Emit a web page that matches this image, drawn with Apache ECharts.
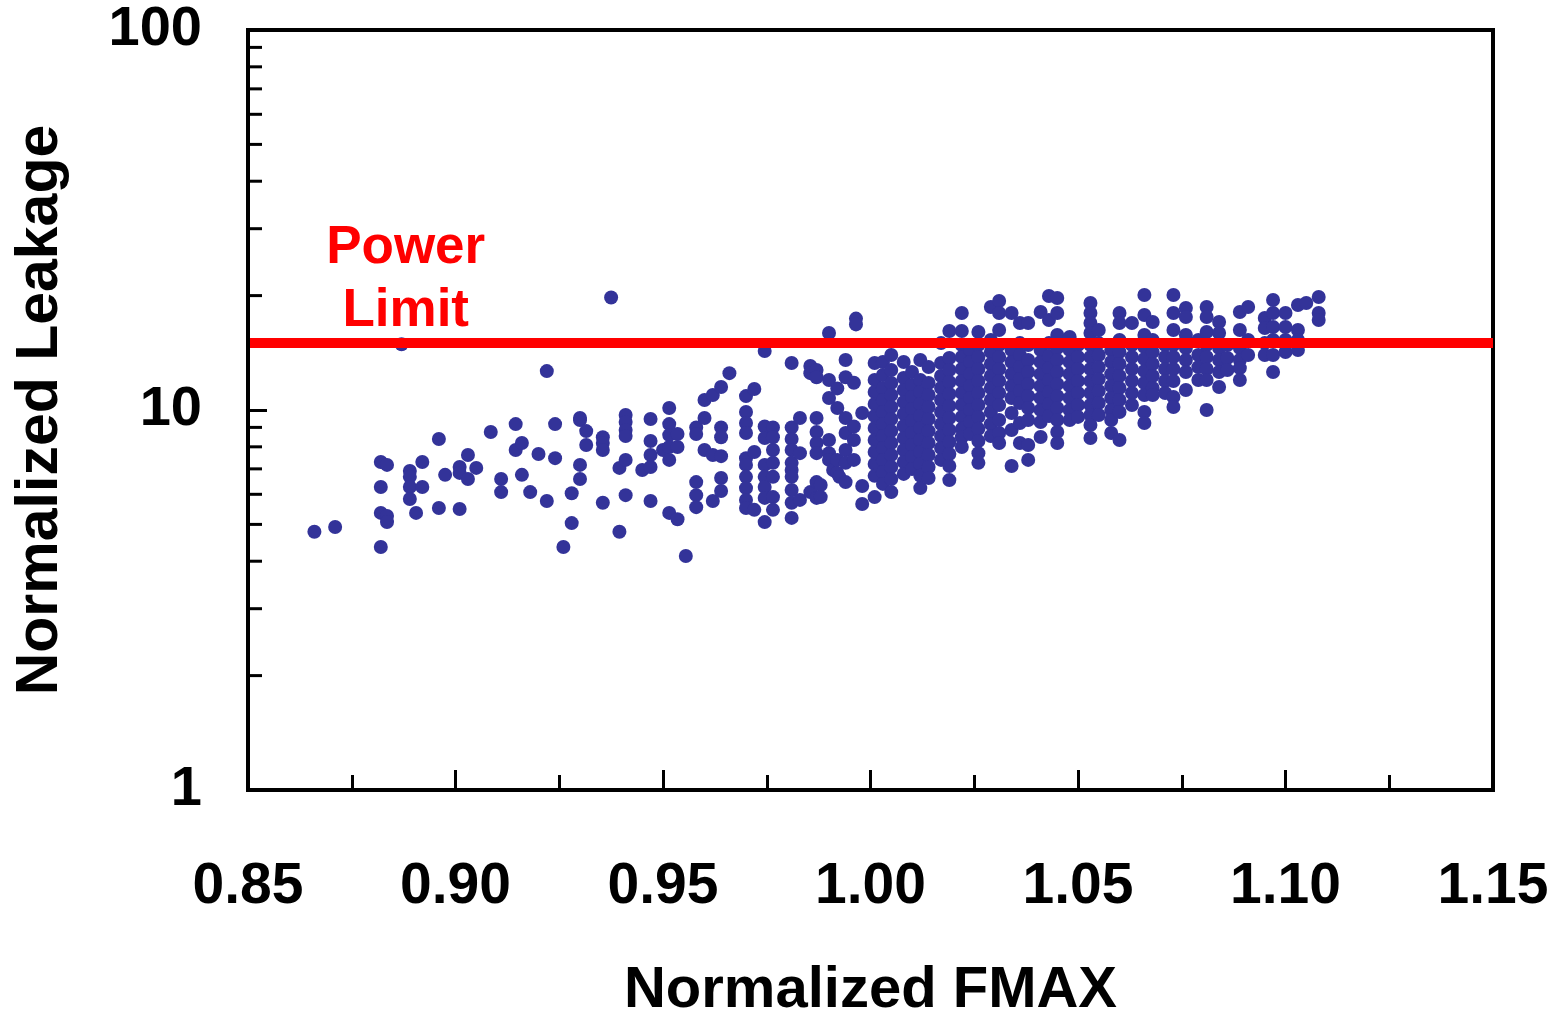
<!DOCTYPE html>
<html><head><meta charset="utf-8">
<script src="https://cdn.jsdelivr.net/npm/echarts@6/dist/echarts.min.js"></script>
<style>html,body{margin:0;padding:0;background:#fff}#c{width:1559px;height:1015px}</style>
</head><body><div id="c"></div>
<script>
// Normalized FMAX column values and the Normalized Leakage values measured at each
const fmaxCols = [
  0.866, 0.871, 0.882, 0.8835, 0.887, 0.889, 0.8905, 0.892, 0.896, 0.8975,
  0.901, 0.903, 0.905, 0.9085, 0.911, 0.9145, 0.916, 0.918, 0.920, 0.922,
  0.924, 0.926, 0.928, 0.930, 0.9315, 0.9355, 0.9375, 0.9395, 0.941, 0.945,
  0.947, 0.950, 0.9515, 0.9535, 0.9555, 0.958, 0.960, 0.962, 0.964, 0.966,
  0.970, 0.972, 0.9745, 0.9765, 0.981, 0.983, 0.9855, 0.987, 0.988, 0.990,
  0.991, 0.992, 0.9925, 0.994, 0.996, 0.9965, 0.998,
  1.001, 1.003, 1.005, 1.008, 1.010, 1.012, 1.014, 1.017, 1.019, 1.022,
  1.024, 1.026, 1.029, 1.031, 1.034, 1.036, 1.038, 1.041, 1.043, 1.045,
  1.048, 1.050, 1.053, 1.055, 1.058, 1.060, 1.063, 1.066, 1.068, 1.071,
  1.073, 1.076, 1.079, 1.081, 1.084, 1.086, 1.089, 1.091, 1.095, 1.097,
  1.100, 1.103, 1.105, 1.108
];
const leakCols = [
  [4.78], [4.92], [7.30, 6.27, 5.36, 4.36], [7.17, 5.26, 5.07], [14.9],
  [6.91, 6.67, 6.27, 5.83], [5.36], [7.30, 6.27], [8.39, 5.52], [6.75],
  [7.08, 6.83, 5.49], [7.61, 6.58], [7.04], [8.75], [6.58, 6.08],
  [9.18, 7.85], [8.19, 6.75], [6.08], [7.66], [12.66, 5.76],
  [9.18, 7.47], [4.36], [6.04, 5.04], [9.53, 9.41, 7.17, 6.58], [8.80, 8.09],
  [8.48, 8.19, 7.85, 5.70], [19.77], [7.04, 4.78], [9.70, 9.30, 8.86, 8.54, 7.39, 5.97], [6.95],
  [9.47, 8.29, 7.61, 7.08, 5.76], [7.85], [10.12, 9.18, 8.59, 7.99, 7.39, 5.36], [8.65, 7.99, 5.16], [4.13],
  [9.0, 8.65, 6.46, 5.97, 5.55], [10.62, 9.53, 7.85], [10.95, 7.61, 5.76], [11.5, 9.0, 8.48, 7.56, 6.62, 6.12], [12.5],
  [10.88, 9.88, 9.24, 8.70, 7.47, 7.17, 6.67, 6.23, 5.80, 5.52],
  [11.36, 7.75, 5.46],
  [14.3, 9.05, 8.44, 7.17, 6.67, 6.27, 5.87, 5.07],
  [9.0, 8.48, 7.85, 7.26, 6.67, 5.90, 5.46],
  [13.3, 9.0, 8.39, 7.85, 7.26, 6.95, 6.67, 6.16, 5.70, 5.20],
  [9.53, 7.70, 5.80],
  [13.05, 12.5, 6.08],
  [12.74, 12.2, 9.53, 8.75, 8.19, 7.70, 6.46, 5.87],
  [6.35, 5.90],
  [15.95, 11.99, 10.75, 8.34, 7.70, 7.39],
  [6.95],
  [11.4, 10.12, 7.39, 6.83],
  [6.67],
  [13.54, 12.2, 9.53, 8.70, 7.85, 7.26, 6.46],
  [11.8, 9.05, 8.34, 7.39],
  [17.4, 16.8],
  [9.82, 6.31, 5.66],
  [13.3, 12.0, 11.15, 10.37, 9.64, 8.97, 8.34, 7.75, 7.21, 6.71, 5.90],
  [13.38, 12.36, 11.43, 10.62, 9.88, 9.18, 8.54, 7.94, 7.39, 6.87, 6.39],
  [13.95, 12.74, 11.78, 10.95, 10.18, 9.47, 8.80, 8.19, 7.61, 7.08, 6.58, 6.08],
  [13.38, 12.14, 11.29, 10.49, 9.76, 9.07, 8.44, 7.85, 7.30, 6.79],
  [12.59, 11.64, 10.82, 10.06, 9.35, 8.70, 8.09, 7.52, 6.99],
  [13.54, 11.99, 11.15, 10.37, 9.64, 8.97, 8.34, 7.75, 7.21, 6.71, 6.23],
  [12.97, 11.78, 10.95, 10.18, 9.47, 8.80, 8.19, 7.61, 7.08, 6.62],
  [15.0, 13.3, 12.29, 11.43, 10.62, 9.88, 9.18, 8.54, 7.94, 7.39],
  [16.14, 13.7, 12.74, 11.85, 11.02, 10.25, 9.53, 8.86, 8.24, 7.66, 7.12, 6.54],
  [18.0, 16.14, 14.83, 13.79, 12.82, 11.92, 11.09, 10.31, 9.59, 8.92, 8.48, 7.99],
  [14.38, 13.38, 12.43, 11.57, 10.75, 10.0, 9.30, 8.65],
  [16.04, 14.83, 13.79, 12.82, 11.92, 11.09, 10.31, 9.59, 8.92, 8.29, 7.70, 7.26],
  [18.66, 15.28, 14.21, 13.21, 12.29, 11.43, 10.62, 9.88, 9.18, 8.54],
  [19.36, 18.0, 16.24, 14.83, 13.79, 12.82, 11.92, 11.09, 10.31, 9.41, 8.70, 8.19],
  [18.0, 14.38, 13.38, 12.43, 11.57, 10.75, 9.82, 8.86, 7.12],
  [16.94, 15.0, 13.95, 12.97, 12.06, 11.22, 10.43, 9.24, 8.19],
  [16.94, 14.83, 13.54, 12.59, 11.71, 10.88, 10.12, 9.41, 8.09, 7.39],
  [18.11, 14.38, 13.38, 12.43, 11.57, 10.75, 10.0, 9.30, 8.49],
  [19.95, 17.25, 15.0, 13.87, 12.89, 11.99, 11.15, 10.37, 9.64],
  [19.72, 18.0, 15.75, 14.56, 13.54, 12.59, 11.71, 10.88, 10.12, 9.41, 8.75, 8.19],
  [15.56, 14.38, 13.38, 12.43, 11.57, 10.75, 10.0, 9.41],
  [14.83, 13.79, 12.82, 11.92, 11.09, 10.31, 9.59],
  [19.13, 18.0, 16.94, 15.94, 14.83, 13.79, 12.82, 11.92, 11.09, 10.31, 9.70, 9.13, 8.44],
  [16.24, 15.0, 13.95, 12.97, 12.06, 11.22, 10.43, 9.70],
  [14.38, 13.38, 12.43, 11.57, 10.75, 10.0, 9.41, 8.70],
  [18.0, 16.94, 15.28, 14.21, 13.21, 12.29, 11.43, 10.62, 9.88, 8.34],
  [16.94, 14.83, 13.79, 12.82, 11.92, 11.09, 10.31],
  [20.07, 17.78, 15.75, 14.65, 13.62, 12.66, 11.78, 10.95, 9.88, 9.24],
  [17.04, 15.28, 14.21, 13.21, 12.29, 11.43, 10.95],
  [14.83, 13.79, 12.82, 11.92, 11.09],
  [20.07, 18.0, 16.24, 14.83, 13.79, 12.82, 11.92, 10.82, 10.18],
  [18.56, 17.57, 15.75, 14.56, 13.54, 12.59, 11.29],
  [15.28, 13.95, 12.97, 11.99],
  [18.66, 17.57, 16.04, 14.83, 13.79, 12.82, 11.99, 10.0],
  [17.04, 15.94, 14.56, 13.54, 12.59, 11.50],
  [14.83, 13.7, 12.74],
  [18.11, 16.24, 14.56, 13.54, 12.89, 11.99],
  [18.66, 15.28, 13.95],
  [17.46, 16.44, 15.0, 13.95],
  [19.48, 18.0, 16.54, 15.28, 13.95, 12.59],
  [18.0, 16.54, 15.28, 14.21],
  [18.90, 16.24, 15.28, 14.38],
  [19.13],
  [19.83, 18.0, 17.25]
];
const xTicks = [0.85, 0.90, 0.95, 1.00, 1.05, 1.10, 1.15];
const yMinorTicks = [2, 3, 4, 5, 6, 7, 8, 9, 20, 30, 40, 50, 60, 70, 80, 90];
const powerLimit = 15;
const limitLabel = 'Power\nLimit';
const limitLabelAt = [0.888, 22.0];

const points = [];
fmaxCols.forEach((x, i) => leakCols[i].forEach(y => points.push([x, y])));

const FONT = '"Liberation Sans", Arial, sans-serif';
const chart = echarts.init(document.getElementById('c'), null, {renderer: 'canvas'});
chart.setOption({
  animation: false,
  backgroundColor: '#fff',
  grid: {left: 248, right: 66, top: 30, bottom: 225, show: true, borderColor: '#000', borderWidth: 4,
         containLabel: false, outerBoundsMode: 'none'},
  xAxis: {
    type: 'value', min: xTicks[0], max: xTicks[xTicks.length - 1], interval: 0.05, z: 10,
    axisLine: {show: true, onZero: false, lineStyle: {color: '#000', width: 4}},
    axisTick: {show: true, inside: true, length: 20, lineStyle: {color: '#000', width: 3}},
    minorTick: {show: true, splitNumber: 2, length: 15, lineStyle: {color: '#000', width: 3}},
    splitLine: {show: false}, minorSplitLine: {show: false},
    axisLabel: {margin: 69, fontSize: 57, fontWeight: 'bold', fontFamily: FONT, color: '#000',
                formatter: v => v.toFixed(2)},
    name: 'Normalized FMAX', nameLocation: 'middle', nameGap: 172,
    nameTextStyle: {fontSize: 58, fontWeight: 'bold', fontFamily: FONT, color: '#000'}
  },
  yAxis: {
    type: 'log', logBase: 10, min: 1, max: 100, z: 10,
    axisLine: {show: true, lineStyle: {color: '#000', width: 4}},
    axisTick: {show: true, inside: true, length: 19, lineStyle: {color: '#000', width: 3}},
    splitLine: {show: false},
    axisLabel: {margin: 46, fontSize: 56, fontWeight: 'bold', fontFamily: FONT, color: '#000',
                padding: [14, 0, 0, 0]},
    name: 'Normalized Leakage', nameLocation: 'middle', nameGap: 178, nameRotate: 90,
    nameTextStyle: {fontSize: 59, fontWeight: 'bold', fontFamily: FONT, color: '#000'}
  },
  series: [
    {
      type: 'scatter', data: points, symbol: 'circle', symbolSize: 14, z: 2,
      itemStyle: {color: '#333399', opacity: 1}, silent: true
    },
    {
      type: 'custom', silent: true, z: 11, clip: false,
      data: yMinorTicks.map(v => [xTicks[0], v]),
      renderItem: function (params, api) {
        const p = api.coord([api.value(0), api.value(1)]);
        return {type: 'line', shape: {x1: p[0], y1: p[1], x2: p[0] + 14, y2: p[1]},
                style: {stroke: '#000', lineWidth: 3}};
      }
    },
    {
      type: 'scatter', silent: true, z: 6, symbolSize: 0,
      itemStyle: {opacity: 1, color: '#ff0000'},
      data: [limitLabelAt],
      label: {show: true, position: 'inside', formatter: limitLabel, color: '#ff0000', opacity: 1,
              fontSize: 53, fontWeight: 'bold', fontFamily: FONT, lineHeight: 63, align: 'center'},
      markLine: {
        silent: true, symbol: ['none', 'none'], z: 6,
        label: {show: false},
        lineStyle: {color: '#ff0000', width: 10, type: 'solid', opacity: 1},
        emphasis: {disabled: true},
        data: [{yAxis: powerLimit}]
      }
    }
  ]
});
</script>
</body></html>
